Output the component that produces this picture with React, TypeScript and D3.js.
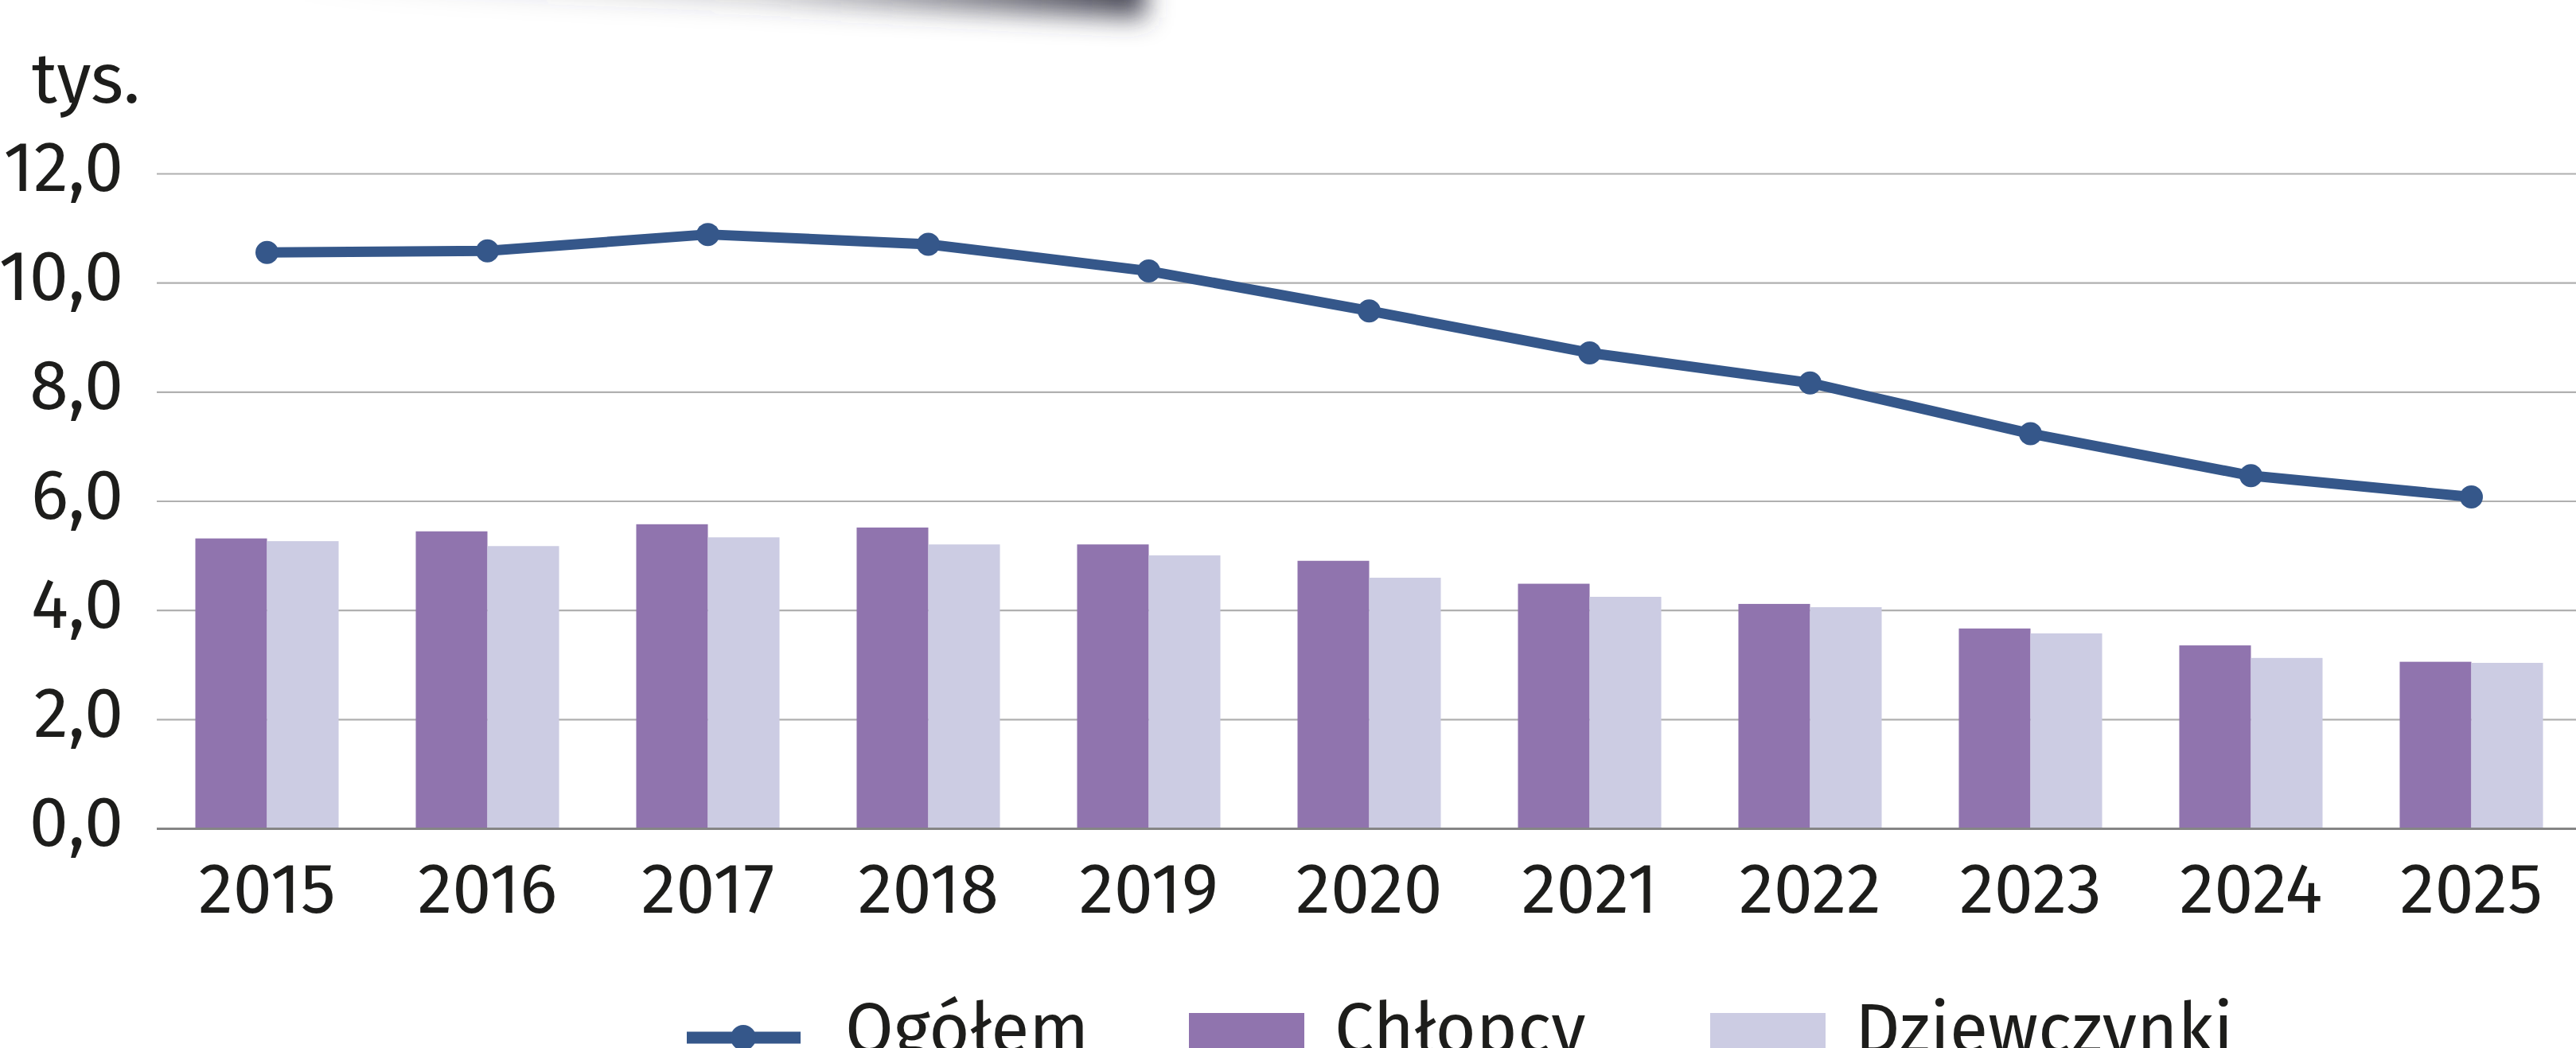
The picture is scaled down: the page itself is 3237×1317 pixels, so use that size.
import { useEffect, useRef } from "react";
import * as d3 from "d3";

// data (thousands)
const YEARS = ["2015", "2016", "2017", "2018", "2019", "2020", "2021", "2022", "2023", "2024", "2025"];
const TOTAL = [10.56, 10.59, 10.89, 10.71, 10.22, 9.49, 8.72, 8.17, 7.24, 6.47, 6.08];
const BOYS = [5.32, 5.45, 5.58, 5.52, 5.21, 4.91, 4.49, 4.12, 3.67, 3.36, 3.06];
const GIRLS = [5.27, 5.18, 5.34, 5.21, 5.01, 4.6, 4.25, 4.06, 3.58, 3.13, 3.04];
const Y_TICKS = [0, 2, 4, 6, 8, 10, 12];
const UNIT_LABEL = "tys.";
const SERIES = ["Ogółem", "Chłopcy", "Dziewczynki"];

const COLORS = {
  total: "#35578a",
  boys: "#9074ae",
  girls: "#cccce3",
  text: "#1d1d1b",
  grid: "#b0b0b0",
  axis: "#858585",
};

const W = 3237;
const H = 1317;
const FONT = "'Fira Sans', 'Open Sans', 'Noto Sans', sans-serif";
const FONT_SIZE = 88;

const plFormat = d3.formatLocale({
  decimal: ",",
  thousands: " ",
  grouping: [3],
  currency: ["", " zł"],
}).format(".1f");

export default function App() {
  const svgRef = useRef<SVGSVGElement | null>(null);

  useEffect(() => {
    const svg = d3.select(svgRef.current);
    svg.selectAll("*").remove();

    const x = d3
      .scaleBand<string>()
      .domain(YEARS)
      .range([197, 3244])
      .paddingInner(0.35)
      .paddingOuter(0.175);

    const x1 = d3
      .scaleBand<string>()
      .domain(["boys", "girls"])
      .range([0, x.bandwidth()]);

    const y = d3.scaleLinear().domain([0, 12]).range([1041.5, 218.5]);

    const defs = svg.append("defs");

    // blurred shadow of a card sitting just above the chart
    const grad = defs
      .append("linearGradient")
      .attr("id", "shadowGrad")
      .attr("gradientUnits", "userSpaceOnUse")
      .attr("x1", 350)
      .attr("x2", 1440)
      .attr("y1", 0)
      .attr("y2", 0);
    grad.append("stop").attr("offset", 0).attr("stop-color", "#3b3b4a").attr("stop-opacity", 0);
    grad.append("stop").attr("offset", 0.55).attr("stop-color", "#3b3b4a").attr("stop-opacity", 0.25);
    grad.append("stop").attr("offset", 1).attr("stop-color", "#3b3b4a").attr("stop-opacity", 0.95);

    defs
      .append("filter")
      .attr("id", "blur")
      .attr("x", "-20%")
      .attr("y", "-100%")
      .attr("width", "140%")
      .attr("height", "300%")
      .append("feGaussianBlur")
      .attr("stdDeviation", 16);

    svg
      .append("path")
      .attr("d", "M330,-80 L1438,-80 L1440,22 L330,-18 Z")
      .attr("fill", "url(#shadowGrad)")
      .attr("filter", "url(#blur)");

    // gridlines
    svg
      .append("g")
      .selectAll("line")
      .data(Y_TICKS.filter((t) => t !== 0))
      .join("line")
      .attr("x1", 197)
      .attr("x2", W)
      .attr("y1", (d) => y(d))
      .attr("y2", (d) => y(d))
      .attr("stroke", COLORS.grid)
      .attr("stroke-width", 2.2);

    // y labels
    svg
      .append("g")
      .selectAll("text")
      .data(Y_TICKS)
      .join("text")
      .attr("x", 155)
      .attr("y", (d) => y(d) + 21.5)
      .attr("text-anchor", "end")
      .attr("font-family", FONT)
      .attr("font-size", FONT_SIZE)
      .attr("fill", COLORS.text)
      .text((d) => plFormat(d));

    svg
      .append("text")
      .attr("x", 40)
      .attr("y", 129)
      .attr("font-family", FONT)
      .attr("font-size", FONT_SIZE)
      .attr("fill", COLORS.text)
      .text(UNIT_LABEL);

    // bars
    const bars = YEARS.map((yr, i) => ({ yr, boys: BOYS[i], girls: GIRLS[i] }));
    const groups = svg
      .append("g")
      .selectAll("g")
      .data(bars)
      .join("g")
      .attr("transform", (d) => `translate(${x(d.yr)},0)`);

    groups
      .selectAll("rect")
      .data((d) => [
        { key: "boys", v: d.boys },
        { key: "girls", v: d.girls },
      ])
      .join("rect")
      .attr("x", (d) => x1(d.key)!)
      .attr("width", x1.bandwidth())
      .attr("y", (d) => y(d.v))
      .attr("height", (d) => y(0) - y(d.v))
      .attr("fill", (d) => (d.key === "boys" ? COLORS.boys : COLORS.girls));

    // zero axis
    svg
      .append("line")
      .attr("x1", 197)
      .attr("x2", W)
      .attr("y1", y(0))
      .attr("y2", y(0))
      .attr("stroke", COLORS.axis)
      .attr("stroke-width", 3);

    // x labels
    svg
      .append("g")
      .selectAll("text")
      .data(YEARS)
      .join("text")
      .attr("x", (d) => x(d)! + x.bandwidth() / 2)
      .attr("y", 1147)
      .attr("text-anchor", "middle")
      .attr("font-family", FONT)
      .attr("font-size", FONT_SIZE)
      .attr("fill", COLORS.text)
      .text((d) => d);

    // total line
    const pts = YEARS.map((yr, i) => [x(yr)! + x.bandwidth() / 2, y(TOTAL[i])] as [number, number]);
    svg
      .append("path")
      .attr("d", d3.line()(pts))
      .attr("fill", "none")
      .attr("stroke", COLORS.total)
      .attr("stroke-width", 13)
      .attr("stroke-linejoin", "round");

    svg
      .append("g")
      .selectAll("circle")
      .data(pts)
      .join("circle")
      .attr("cx", (d) => d[0])
      .attr("cy", (d) => d[1])
      .attr("r", 14.5)
      .attr("fill", COLORS.total);

    // legend (cut by the bottom edge, like the reference)
    const lg = svg.append("g");
    lg.append("line")
      .attr("x1", 863)
      .attr("x2", 1006)
      .attr("y1", 1304)
      .attr("y2", 1304)
      .attr("stroke", COLORS.total)
      .attr("stroke-width", 15);
    lg.append("circle").attr("cx", 934).attr("cy", 1304).attr("r", 16).attr("fill", COLORS.total);
    lg.append("rect").attr("x", 1494).attr("y", 1273).attr("width", 145).attr("height", 145).attr("fill", COLORS.boys);
    lg.append("rect").attr("x", 2149).attr("y", 1273).attr("width", 145).attr("height", 145).attr("fill", COLORS.girls);

    const legendX = [1062, 1677, 2331];
    lg.selectAll("text")
      .data(SERIES)
      .join("text")
      .attr("x", (_, i) => legendX[i])
      .attr("y", 1323)
      .attr("font-family", FONT)
      .attr("font-size", FONT_SIZE)
      .attr("fill", COLORS.text)
      .text((d) => d);
  }, []);

  return (
    <svg
      ref={svgRef}
      width={W}
      height={H}
      viewBox={`0 0 ${W} ${H}`}
      style={{ position: "absolute", left: 0, top: 0, background: "#fff" }}
    />
  );
}
